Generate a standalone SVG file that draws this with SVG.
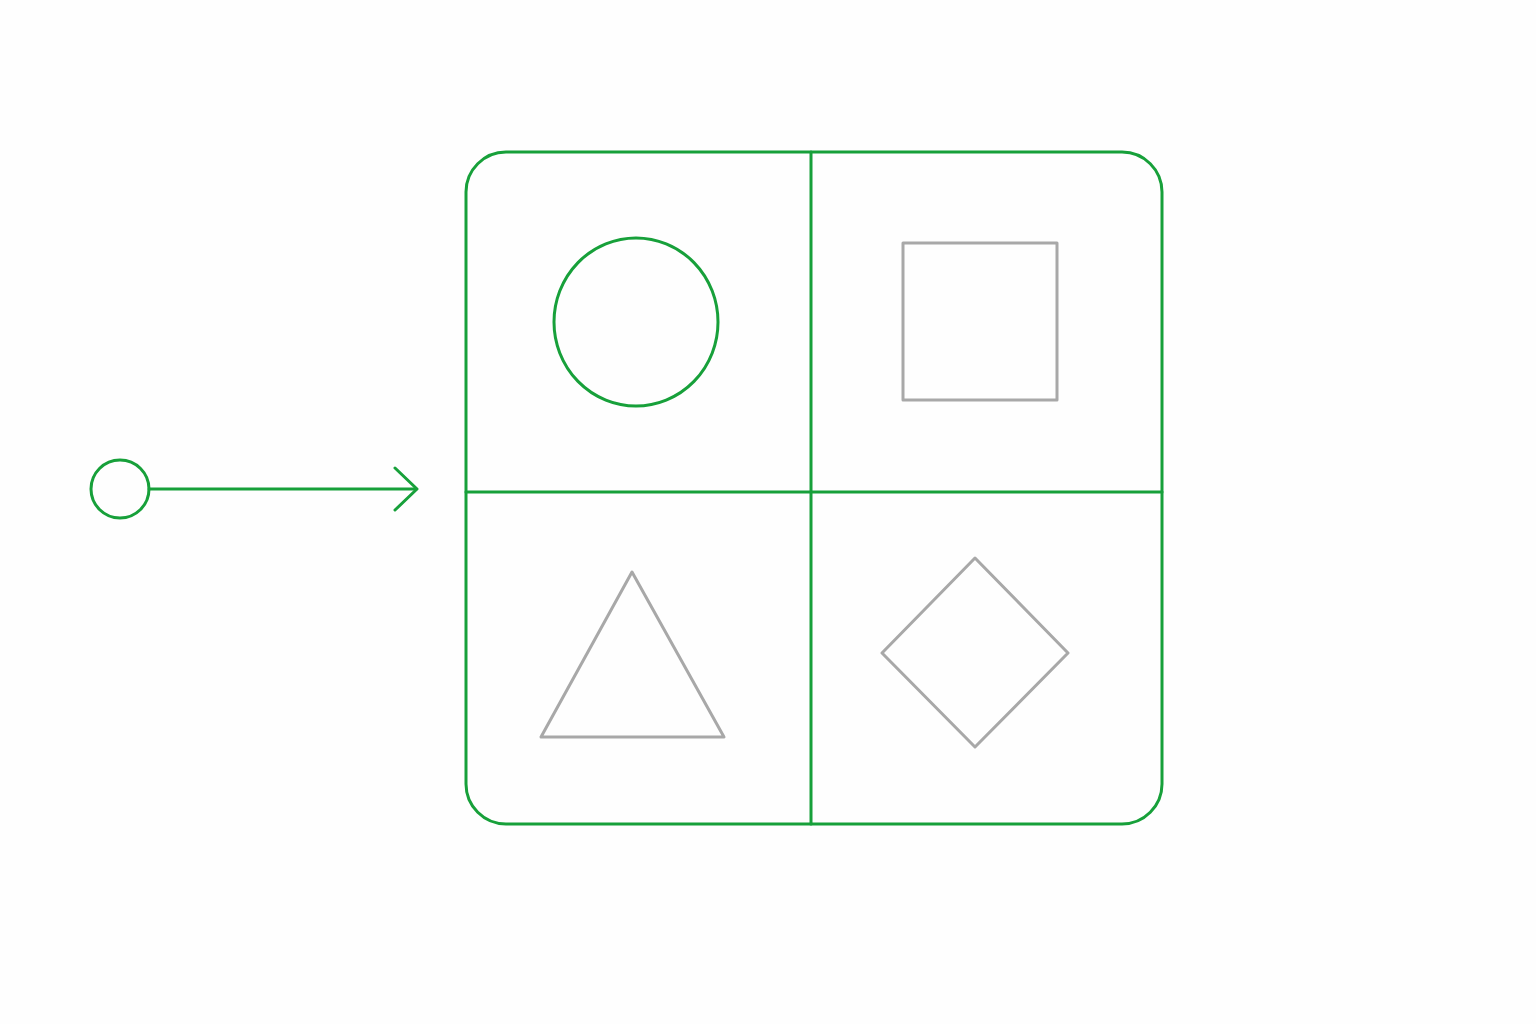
<svg xmlns="http://www.w3.org/2000/svg" width="1536" height="1024" viewBox="0 0 1536 1024">
<style>
.g{fill:none;stroke:#17a03a;stroke-width:3;stroke-linecap:round;stroke-linejoin:round}
.s{fill:none;stroke:#a8a8a8;stroke-width:3;stroke-linecap:round;stroke-linejoin:round}
</style>
<rect width="1536" height="1024" fill="#fefefe"/>
<g id="grid">
<rect class="g" x="466" y="152" width="696" height="672" rx="40"/>
<line class="g" x1="811" y1="152" x2="811" y2="824"/>
<line class="g" x1="466" y1="492" x2="1162" y2="492"/>
</g>
<g id="circle-shape"><ellipse class="g" cx="636" cy="322" rx="82" ry="84"/></g>
<g id="square-shape"><rect class="s" x="903" y="243" width="154" height="157"/></g>
<g id="triangle-shape"><polygon class="s" points="632,572 724,737 541,737"/></g>
<g id="diamond-shape"><polygon class="s" points="975,558 1068,653 975,747 882,653"/></g>
<g id="start"><circle class="g" cx="120" cy="489" r="29"/></g>
<g id="connectors">
<line class="g" x1="149" y1="489" x2="416" y2="489"/>
<polyline class="g" points="395,468 417,489 395,510"/>
</g>
</svg>
